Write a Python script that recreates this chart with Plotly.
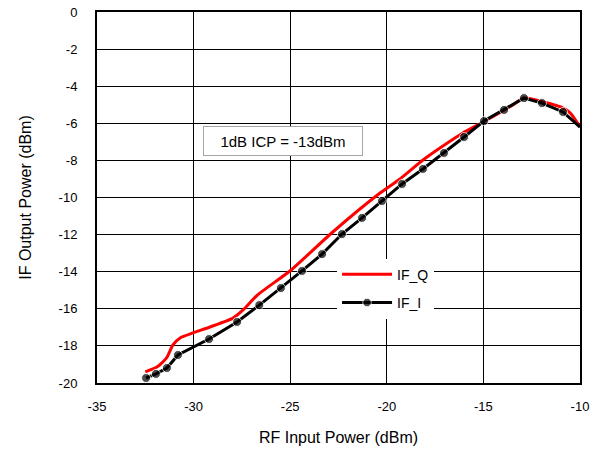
import plotly.graph_objects as go

# IF_I (black, with markers)
x_i = [-32.46, -31.95, -31.38, -30.81, -29.2, -27.75, -26.6, -25.48, -24.39, -23.35,
       -22.32, -21.28, -20.25, -19.21, -18.13, -17.04, -16.0, -14.97, -13.93, -12.9,
       -11.97, -10.88, -10.0]
y_i = [-19.73, -19.51, -19.19, -18.49, -17.63, -16.71, -15.8, -14.88, -13.96, -13.05,
       -11.97, -11.1, -10.19, -9.27, -8.46, -7.6, -6.74, -5.88, -5.28, -4.64,
       -4.91, -5.39, -6.2]

# IF_Q (red, smooth line)
x_q = [-32.5, -31.9, -31.4, -31.07, -30.7, -30.03, -29.15, -27.96, -27.44, -26.7,
       -25.0, -22.84, -20.35, -19.32, -18.13, -17.25, -16.06, -15.02, -13.47, -12.9,
       -11.9, -11.0, -10.5, -10.0]
y_q = [-19.4, -19.14, -18.65, -17.95, -17.57, -17.3, -16.98, -16.5, -16.06, -15.26,
       -13.95, -11.9, -9.76, -9.0, -7.98, -7.33, -6.52, -5.93, -5.01, -4.64,
       -4.85, -5.12, -5.45, -6.2]

x_tickvals = [-35, -30, -25, -20, -15, -10]
x_ticktext = ["-35", "-30", "-25", "-20", "-15", "-10"]
y_tickvals = [0, -2, -4, -6, -8, -10, -12, -14, -16, -18, -20]
y_ticktext = ["0", "-2", "-4", "-6", "-8", "-10", "-12", "-14", "-16", "-18", "-20"]

marker_sizes = [9] * (len(x_i) - 1) + [0]

fig = go.Figure()
fig.add_trace(go.Scatter(x=x_q, y=y_q, mode="lines", name="IF_Q", legendgroup="q",
                         line=dict(color="#ff0000", width=3, shape="spline", smoothing=0.6)))
fig.add_trace(go.Scatter(x=x_i, y=y_i, mode="lines+markers", name="IF_I", legendgroup="i",
                         line=dict(color="#000000", width=3),
                         marker=dict(color="#000000", size=marker_sizes)))

font = "Liberation Sans, Arial, sans-serif"
fig.update_layout(
    width=606, height=452,
    margin=dict(l=97, r=26, t=12, b=69, autoexpand=False),
    paper_bgcolor="white", plot_bgcolor="white",
    font=dict(family=font, size=13, color="black"),
    showlegend=True,
    legend=dict(x=0.497, y=0.335, xanchor="left", yanchor="top",
                bgcolor="white", font=dict(size=14), tracegroupgap=7, itemwidth=50),
    xaxis=dict(range=[-35, -10], tickvals=x_tickvals, ticktext=x_ticktext,
               showgrid=True, gridcolor="black", gridwidth=1,
               showline=True, linecolor="black", linewidth=2, mirror=True,
               zeroline=False, ticks="", ticklabelstandoff=10,
               title=dict(text="RF Input Power (dBm)", standoff=19)),
    yaxis=dict(range=[-20, 0], tickvals=y_tickvals, ticktext=y_ticktext,
               showgrid=True, gridcolor="black", gridwidth=1,
               showline=True, linecolor="black", linewidth=2, mirror=True,
               zeroline=False, ticks="", ticklabelstandoff=15,
               title=dict(text="IF Output Power (dBm)", standoff=23)),
)

fig.add_annotation(x=0.219, y=0.652, xref="paper", yref="paper", xanchor="left", yanchor="middle",
                   text="1dB ICP = -13dBm", showarrow=False, font=dict(size=15),
                   width=146, height=16, align="center",
                   bgcolor="white", bordercolor="#a6a6a6", borderwidth=1, borderpad=6)

fig.write_html("out.html", config={"displayModeBar": False},
               post_script="document.body.style.margin='0';")
